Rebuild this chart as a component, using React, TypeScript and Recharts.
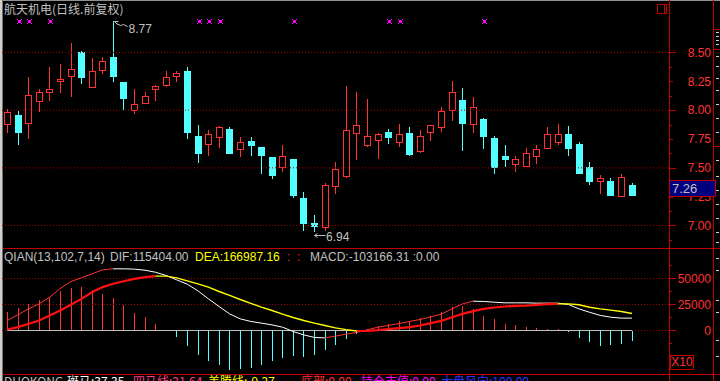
import {
  ComposedChart,
  Bar,
  Line,
  XAxis,
  YAxis,
  ReferenceLine
} from 'recharts';

const FONT = '"Liberation Sans", Arial, sans-serif';
const CJK = '"Noto Sans CJK SC", "Liberation Sans", sans-serif';

const COLORS = {
  up: '#ff3232',
  down: '#54ffff',
  axis: '#c00000',
  grid: '#a00000',
  label: '#ff3232',
  grey: '#c0c0c0',
  white: '#ffffff',
  yellow: '#ffff00',
  magenta: '#ff00ff',
  navy: '#000080'
};

// daily candles (60 sessions)
const openPx = [
  7.88, 7.96, 7.89, 8.08, 8.16, 8.25, 8.3, 8.5, 8.2, 8.35,
  8.46, 8.24, 8.0, 8.06, 8.18, 8.22, 8.3, 8.34, 7.78, 7.71,
  7.77, 7.84, 7.66, 7.73, 7.68, 7.59, 7.51, 7.58, 7.24, 7.02,
  6.99, 7.34, 7.43, 7.8, 7.7, 7.74, 7.81, 7.72, 7.8, 7.65,
  7.81, 7.85, 8.0, 8.09, 7.88, 7.92, 7.76, 7.6, 7.53, 7.52,
  7.6, 7.67, 7.72, 7.79, 7.71, 7.51, 7.39, 7.39, 7.26, 7.35
];
const highPx = [
  8.01, 7.99, 8.29, 8.18, 8.37, 8.4, 8.58, 8.51, 8.45, 8.46,
  8.77, 8.24, 8.18, 8.16, 8.22, 8.34, 8.34, 8.37, 7.87, 7.83,
  7.86, 7.85, 7.77, 7.77, 7.68, 7.59, 7.7, 7.58, 7.29, 7.09,
  7.37, 7.55, 8.21, 8.16, 8.1, 7.8, 7.84, 7.88, 7.85, 7.83,
  7.87, 8.03, 8.25, 8.19, 8.11, 7.93, 7.78, 7.7, 7.6, 7.67,
  7.7, 7.85, 7.88, 7.86, 7.72, 7.55, 7.44, 7.41, 7.45, 7.37
];
const lowPx = [
  7.8, 7.7, 7.75, 7.98, 8.08, 8.15, 8.11, 8.23, 8.2, 8.31,
  8.24, 8.0, 7.97, 8.05, 8.08, 8.2, 8.24, 7.75, 7.54, 7.6,
  7.67, 7.62, 7.59, 7.6, 7.45, 7.4, 7.46, 7.24, 6.95, 6.94,
  6.95, 7.27, 7.41, 7.57, 7.68, 7.58, 7.71, 7.68, 7.6, 7.63,
  7.73, 7.81, 7.91, 7.65, 7.8, 7.66, 7.45, 7.51, 7.46, 7.51,
  7.53, 7.67, 7.7, 7.6, 7.45, 7.35, 7.27, 7.26, 7.26, 7.26
];
const closePx = [
  7.98, 7.8, 8.13, 8.16, 8.18, 8.27, 8.36, 8.28, 8.34, 8.43,
  8.29, 8.1, 8.05, 8.12, 8.21, 8.29, 8.32, 7.8, 7.62, 7.79,
  7.85, 7.62, 7.72, 7.69, 7.6, 7.43, 7.6, 7.26, 7.01, 6.99,
  7.35, 7.49, 7.83, 7.87, 7.78, 7.79, 7.76, 7.79, 7.61, 7.78,
  7.87, 7.99, 8.16, 7.88, 8.03, 7.77, 7.5, 7.57, 7.58, 7.63,
  7.66, 7.79, 7.79, 7.66, 7.45, 7.38, 7.41, 7.26, 7.42, 7.26
];
const signalDays = [2, 3, 5, 19, 20, 21, 28, 37, 38, 46];
const SIGNAL_LEVEL = 8.77;

// QIAN indicator (shown at X10 scale)
const difVals = [
  9600, 15100, 20800, 25600, 32000, 40400, 47100, 50600, 54500, 58300,
  59300, 59300, 59000, 58000, 56000, 52900, 48700, 44500, 38200, 30400,
  23100, 16000, 11200, 8700, 7100, 5400, 3200, -1000, -4200, -6700,
  -7100, -5400, -3500, -1900, 600, 3200, 4800, 6700, 8700, 10600,
  13100, 15700, 20800, 25600, 28200, 27900, 27200, 26600, 26600, 26600,
  26300, 26300, 26300, 25000, 20800, 17500, 14500, 12800, 11900, 11900
];
const deaVals = [
  960, 3200, 6400, 9600, 14400, 19200, 24700, 30400, 36800, 41700,
  44900, 47400, 49700, 51300, 52300, 52300, 50600, 47700, 44900, 41700,
  37500, 33700, 29800, 26000, 22400, 19200, 15700, 12500, 9600, 7100,
  4800, 2500, 800, -500, -300, 300, 1300, 2200, 3200, 4800,
  7100, 9300, 12800, 16000, 18600, 20800, 22100, 23100, 23700, 24000,
  24700, 25300, 25600, 25600, 24700, 22400, 20800, 19600, 18300, 16300
];
const macdVals = [
  17600, 22100, 25000, 28850, 32050, 37500, 40700, 41700, 39100, 35250,
  31100, 24700, 16350, 12800, 6100, 500, -6700, -15100, -24000, -29500,
  -33000, -37800, -36900, -35900, -33000, -29800, -26900, -25000, -25500, -23500,
  -19200, -13500, -8300, -2900, 1500, 4500, 6700, 9000, 9600, 11900,
  13500, 17600, 22400, 24000, 20800, 13800, 10900, 6700, 5400, 3200,
  2200, 1600, 1000, -1600, -7400, -11200, -15100, -14400, -13100, -10300
];

const priceTicks = [6.875, 7, 7.125, 7.25, 7.375, 7.5, 7.625, 7.75, 7.875, 8, 8.125, 8.25, 8.375, 8.5];
const priceLabels = [7, 7.25, 7.5, 7.75, 8, 8.25, 8.5];
const priceGrid = [7, 7.5, 8, 8.5];
const macdTicks = [-37500, -25000, -12500, 0, 12500, 25000, 37500, 50000, 62500];
const macdLabels = [0, 25000, 50000];
const macdGrid = [0, 25000, 50000];
const EMPTY_SLOTS = 3;

const PRICE_H = 248;
const PRICE_DOMAIN = [6.8049, 8.9552];
const MACD_DOMAIN = [-41827, 78365];

const rows: any[] = [];
const n = openPx.length;
const hiIdx = highPx.indexOf(Math.max(...highPx));
const loIdx = lowPx.indexOf(Math.min(...lowPx));
for (let i = 0; i < n + EMPTY_SLOTS; i++) {
  const r: any = { day: String(i + 1) };
  if (i < n) {
    r.open = openPx[i];
    r.high = highPx[i];
    r.low = lowPx[i];
    r.close = closePx[i];
    r.range = [lowPx[i], highPx[i]];
    r.signal = signalDays.includes(i + 1);
    r.isHigh = i === hiIdx;
    r.isLow = i === loIdx;
    r.macd = macdVals[i];
  }
  rows.push(r);
}

// split a line into rising / falling runs so each run gets its own colour
function splitRuns(values: number[], prefix: string) {
  const runs: { key: string; up: boolean; from: number; to: number }[] = [];
  for (let i = 1; i < values.length; i++) {
    const up = values[i] > values[i - 1];
    const last = runs[runs.length - 1];
    if (last && last.up === up) last.to = i;
    else runs.push({ key: prefix + runs.length, up, from: i - 1, to: i });
  }
  runs.forEach((r) => {
    for (let i = r.from; i <= r.to; i++) rows[i][r.key] = values[i];
  });
  return runs;
}
const difRuns = splitRuns(difVals, 'dif');
const deaRuns = splitRuns(deaVals, 'dea');

function Candle(props: any) {
  const { x, y, width, height, payload } = props;
  if (!payload || payload.open == null) return <g />;
  const { open, high, low, close } = payload;
  const top = Math.min(y, y + height);
  const bot = Math.max(y, y + height);
  const py = (p: number) => top + ((high - p) / (high - low)) * (bot - top);
  const cx = Math.floor(x + width / 2) + 0.5;
  const yH = Math.round(py(high));
  const yL = Math.round(py(low));
  const parts: any[] = [];
  if (close >= open) {
    const bT = Math.round(py(close));
    const bB = Math.round(py(open));
    parts.push(<line key="w1" x1={cx} x2={cx} y1={yH} y2={bT} stroke={COLORS.up} />);
    parts.push(<line key="w2" x1={cx} x2={cx} y1={bB} y2={yL} stroke={COLORS.up} />);
    parts.push(
      <rect key="b" x={cx - 3} y={bT + 0.5} width={6} height={Math.max(bB - bT, 1)}
        fill="#000" stroke={COLORS.up} />
    );
  } else {
    const bT = Math.round(py(open));
    const bB = Math.round(py(close));
    parts.push(<line key="w" x1={cx} x2={cx} y1={yH} y2={yL} stroke={COLORS.down} />);
    parts.push(
      <rect key="b" x={cx - 3.5} y={bT} width={7} height={Math.max(bB - bT, 1)} fill={COLORS.down} />
    );
  }
  if (payload.signal) {
    const c = Math.floor(cx) + 1;
    const r = Math.round(py(SIGNAL_LEVEL));
    parts.push(
      <g key="s" fill={COLORS.magenta}>
        <rect x={c - 1} y={r - 1} width={3} height={3} />
        <rect x={c - 2} y={r - 2} width={1} height={1} />
        <rect x={c + 2} y={r - 2} width={1} height={1} />
        <rect x={c - 2} y={r + 2} width={1} height={1} />
        <rect x={c + 2} y={r + 2} width={1} height={1} />
      </g>
    );
  }
  if (payload.isHigh) {
    parts.push(
      <g key="hi" stroke={COLORS.grey} fill="none">
        <path d={`M${cx + 1},${yH + 0.5} h4 M${cx + 1},${yH + 0.5} l3,3 M${cx + 3},${yH + 2.5} l4,2 l3,-1 l4,2`} />
        <text x={cx + 15} y={yH + 12} fill={COLORS.grey} stroke="none" fontSize={12} fontFamily={FONT}>
          {high.toFixed(2)}
        </text>
      </g>
    );
  }
  if (payload.isLow) {
    const ay = yL + 3.5;
    parts.push(
      <g key="lo" stroke={COLORS.grey} fill="none">
        <path d={`M${cx},${ay} h11 M${cx},${ay} l3,-2 M${cx},${ay} l3,2`} />
        <text x={cx + 11.5} y={yL + 9} fill={COLORS.grey} stroke="none" fontSize={12} fontFamily={FONT}>
          {low.toFixed(2)}
        </text>
      </g>
    );
  }
  return <g>{parts}</g>;
}

function HistBar(props: any) {
  const { x, y, width, height, payload } = props;
  if (!payload || payload.macd == null) return <g />;
  const cx = Math.floor(x + width / 2) + 0.5;
  const y1 = Math.round(Math.min(y, y + height));
  const y2 = Math.round(Math.max(y, y + height));
  return <line x1={cx} x2={cx} y1={y1} y2={y2} stroke={payload.macd >= 0 ? COLORS.up : COLORS.down} />;
}

function makeTick(labels: number[], majorStep: number, fmt: (v: number) => string) {
  return (props: any) => {
    const { x, y, payload } = props;
    const v = payload.value;
    const labeled = labels.includes(v);
    const major = labeled && Math.abs(v / majorStep - Math.round(v / majorStep)) < 1e-6;
    const len = major ? 6 : labeled ? 3 : 2;
    const yy = Math.round(y) + 0.5;
    return (
      <g>
        <line x1={x + 1} x2={x + 1 + len} y1={yy} y2={yy} stroke={COLORS.axis} />
        {labeled && (
          <text x={x + 42} y={y} dy="0.36em" textAnchor="end" fill={COLORS.label} fontSize={12} fontFamily={FONT}>
            {fmt(v)}
          </text>
        )}
      </g>
    );
  };
}
const PriceTick = makeTick(priceLabels, 0.5, (v) => v.toFixed(2));
const MacdTick = makeTick(macdLabels, 25000, (v) => String(v));

// last-price tag sits over the axis labels, so it is an overlay on the same linear scale
const lastClose = closePx[n - 1];
const lastY = Math.round(((PRICE_DOMAIN[1] - lastClose) / (PRICE_DOMAIN[1] - PRICE_DOMAIN[0])) * PRICE_H);

const abs = (s: any) => ({ position: 'absolute', ...s } as any);

export default function App() {
  const lastDay = rows[n - 1].day;
  return (
    <div style={{ position: 'fixed', left: 0, top: 0, width: 720, height: 381, background: '#000', overflow: 'hidden' }}>
      {/* frame */}
      <div style={abs({ left: 0, top: 0, width: 720, height: 1, background: '#909090' })} />
      <div style={abs({ left: 0, top: 0, width: 2, height: 381, background: '#d4d0c8' })} />
      <div style={abs({ left: 2, top: 0, width: 1, height: 381, background: '#707070' })} />

      <div style={abs({ left: 0, top: 0 })}>
        <ComposedChart width={720} height={PRICE_H} data={rows} margin={{ top: 0, right: 0, bottom: 0, left: 2 }}>
          <XAxis dataKey="day" hide />
          <YAxis
            orientation="right"
            width={51}
            type="number"
            domain={PRICE_DOMAIN}
            allowDataOverflow
            ticks={priceTicks}
            interval={0}
            tickSize={0}
            tickMargin={0}
            axisLine={false}
            tickLine={false}
            tick={PriceTick}
          />
          {priceGrid.map((v) => (
            <ReferenceLine key={v} y={v} stroke={COLORS.grid} strokeDasharray="1 2" />
          ))}
          <Bar dataKey="range" barSize={7} isAnimationActive={false} shape={(p: any) => <Candle {...p} />} />
        </ComposedChart>
      </div>

      <div style={abs({ left: 0, top: 249 })}>
        <ComposedChart width={720} height={125} data={rows} margin={{ top: 0, right: 0, bottom: 0, left: 2 }}>
          <XAxis dataKey="day" hide />
          <YAxis
            orientation="right"
            width={51}
            type="number"
            domain={MACD_DOMAIN}
            allowDataOverflow
            ticks={macdTicks}
            interval={0}
            tickSize={0}
            tickMargin={0}
            axisLine={false}
            tickLine={false}
            tick={MacdTick}
          />
          {macdGrid.map((v) => (
            <ReferenceLine key={v} y={v} stroke={COLORS.grid} strokeDasharray="1 2" />
          ))}
          <Bar dataKey="macd" barSize={1} isAnimationActive={false} shape={(p: any) => <HistBar {...p} />} />
          <ReferenceLine
            segment={[{ x: rows[0].day, y: 0 }, { x: lastDay, y: 0 }]}
            stroke={COLORS.grey}
          />
          {difRuns.map((r) => (
            <Line
              key={r.key}
              dataKey={r.key}
              type="linear"
              stroke={r.up ? COLORS.up : COLORS.white}
              strokeWidth={1}
              dot={false}
              activeDot={false}
              isAnimationActive={false}
            />
          ))}
          {deaRuns.map((r) => (
            <Line
              key={r.key}
              dataKey={r.key}
              type="linear"
              stroke={r.up ? '#ff1010' : COLORS.yellow}
              strokeWidth={r.up ? 2.2 : 1.4}
              dot={false}
              activeDot={false}
              isAnimationActive={false}
            />
          ))}
        </ComposedChart>
      </div>

      {/* panel frame lines */}
      <div style={abs({ left: 669, top: 0, width: 1, height: 381, background: COLORS.axis })} />
      <div style={abs({ left: 713, top: 0, width: 1, height: 381, background: COLORS.axis })} />
      <div style={abs({ left: 3, top: 248, width: 717, height: 1, background: COLORS.axis })} />
      <div style={abs({ left: 3, top: 374, width: 717, height: 1, background: COLORS.axis })} />
      <div style={abs({ left: 714, top: 29, width: 6, height: 1, background: COLORS.axis })} />
      <div style={abs({ left: 714, top: 49, width: 6, height: 1, background: COLORS.axis })} />
      <div style={abs({ left: 714, top: 146, width: 6, height: 1, background: COLORS.axis })} />
      {[32, 36, 40, 44, 56, 66, 78, 90, 104, 118, 132, 160, 176, 190, 204, 218, 232, 242, 258, 270, 300, 312, 340, 356].map((t) => (
        <div key={t} style={abs({ left: 716, top: t, width: 3, height: 1, background: '#d0d0d0' })} />
      ))}

      {/* last price tag */}
      <div
        style={abs({
          left: 669,
          top: lastY - 16,
          width: 43,
          height: 15,
          background: COLORS.navy,
          border: `1px solid ${COLORS.axis}`,
          color: COLORS.grey,
          font: `13px ${FONT}`,
          lineHeight: '15px',
          paddingLeft: 2,
          boxSizing: 'content-box'
        })}
      >
        {lastClose.toFixed(2)}
      </div>

      {/* title and small widgets */}
      <div style={abs({ left: 4, top: 2, font: `12px ${CJK}`, lineHeight: '14px', color: COLORS.grey, whiteSpace: 'pre' })}>
        航天机电(日线.前复权)
      </div>
      <div style={abs({ left: 657, top: 4, width: 8, height: 8, border: `1px solid ${COLORS.axis}` })}>
        <div style={abs({ left: 6, top: 0, width: 1, height: 8, background: COLORS.axis })} />
      </div>

      {/* indicator header */}
      <div style={abs({ left: 0, top: 250, font: `12px ${FONT}`, lineHeight: '14px', whiteSpace: 'pre' })}>
        <span style={abs({ left: 4, color: COLORS.grey })}>QIAN(13,102,7,14)</span>
        <span style={abs({ left: 110, color: COLORS.grey })}>DIF:115404.00</span>
        <span style={abs({ left: 195, color: COLORS.yellow })}>DEA:166987.16</span>
        <span style={abs({ left: 287, color: COLORS.up })}>:  :</span>
        <span style={abs({ left: 310, color: COLORS.grey })}>MACD:-103166.31 :0.00</span>
      </div>

      <div style={abs({ left: 670, top: 355, width: 22, height: 13, border: `1px solid ${COLORS.axis}`, color: COLORS.label, font: `12px ${FONT}`, lineHeight: '13px', textAlign: 'center' })}>
        X10
      </div>

      {/* bottom indicator line (mostly cut off) */}
      <div style={abs({ left: 0, top: 374, font: `12px ${CJK}`, lineHeight: '14px', whiteSpace: 'pre' })}>
        <span style={abs({ left: 4, color: COLORS.grey })}>DUOKONG</span>
        <span style={abs({ left: 67, color: COLORS.white })}>斑马:37.35</span>
        <span style={abs({ left: 133, color: '#ff3c8c' })}>四马线:21.64</span>
        <span style={abs({ left: 208, color: COLORS.yellow })}>美腾线:-9.27</span>
        <span style={abs({ left: 301, color: COLORS.up })}>底部:0.00</span>
        <span style={abs({ left: 361, color: COLORS.magenta })}>持仓市值:0.00</span>
        <span style={abs({ left: 441, color: '#3232ff' })}>大盘风向:100.00</span>
      </div>
    </div>
  );
}
